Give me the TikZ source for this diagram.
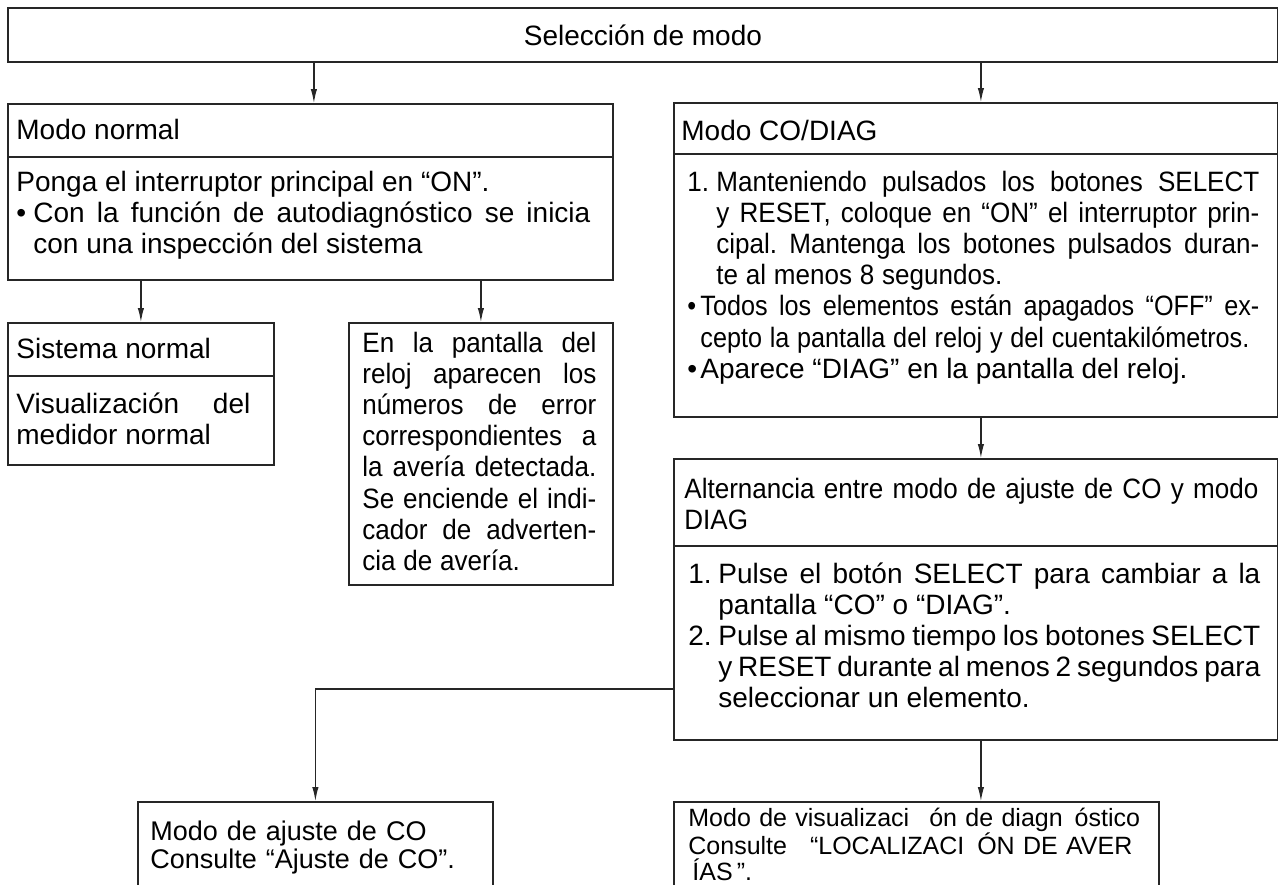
\documentclass[tikz,border=0pt]{standalone}
\usepackage{fontspec}
\setmainfont{Liberation Sans}
\newfontfamily\narrowfont[FakeStretch=0.93]{Liberation Sans}
\newfontfamily\narrowerfont[FakeStretch=0.9]{Liberation Sans}
\usetikzlibrary{arrows.meta}
\tolerance=10000
\hbadness=10000
\hyphenpenalty=10000
\frenchspacing
\tikzstyle{panel} = [rectangle, draw=black!85, line width=0.9pt, anchor=north west, inner sep=0pt, font={\fontsize{14pt}{15.6pt}\selectfont}]
\tikzstyle{body} = [anchor=base west, inner sep=0pt, align=justify, font={\fontsize{14pt}{15.6pt}\selectfont\spaceskip=.278em plus .3em minus .12em\relax}]
\tikzstyle{rule} = [draw=black!85, line width=0.9pt]
\tikzstyle{arrow} = [draw=black!85, line width=0.6pt, -{Latex[length=7pt,width=3.2pt]}]

\begin{document}
\begin{tikzpicture}[x=0.5pt, y=-0.5pt]
    \useasboundingbox (0,0) rectangle (1278,884);
    \clip (0,0) rectangle (1278,884);

    % boxes
    \node (sel)     [panel, minimum width=635pt, minimum height=27pt]     at (7,7)     {Selección de modo};
    \node (normal)  [panel, minimum width=302.5pt, minimum height=88pt]   at (7,103)   {};
    \node (codiag)  [panel, minimum width=302pt, minimum height=157pt]    at (673,102) {};
    \node (sistema) [panel, minimum width=133pt, minimum height=71pt]     at (7,322)   {};
    \node (error)   [panel, minimum width=132pt, minimum height=131pt]    at (348,322) {};
    \node (alter)   [panel, minimum width=302pt, minimum height=140.5pt]  at (673,458) {};
    \node (ajuste)  [panel, minimum width=177.5pt, minimum height=50pt]   at (137,801) {};
    \node (diagvis) [panel, minimum width=242.5pt, minimum height=50pt]   at (673,801) {};

    \draw [rule] ([yshift=-27pt]normal.north west)  -- ([yshift=-27pt]normal.north east);
    \draw [rule] ([yshift=-26pt]codiag.north west)  -- ([yshift=-26pt]codiag.north east);
    \draw [rule] ([yshift=-27pt]sistema.north west) -- ([yshift=-27pt]sistema.north east);
    \draw [rule] ([yshift=-44pt]alter.north west)   -- ([yshift=-44pt]alter.north east);

    % texts
    \node (normal-title) [body] at (16,139) {Modo normal};
    \node (normal-text)  [body, text width=287pt] at (16,191) {Ponga el interruptor principal en “ON”.\par
      \makebox[8.5pt][l]{\textbullet}\hangindent=8.5pt Con la función de autodiagnóstico se inicia\linebreak con una inspección del sistema\par};

    \node (sistema-title) [body] at (16,358) {Sistema normal};
    \node (sistema-text)  [body, text width=117pt] at (16,413) {Visualización del\linebreak medidor normal};

    \node (error-text) [body, text width=117pt] at (362,352) {\narrowfont En la pantalla del\linebreak reloj aparecen los\linebreak
      números de error\linebreak correspondientes a\linebreak la avería detectada.\linebreak Se enciende el indi-\linebreak
      cador de adverten-\linebreak cia de avería.};

    \node (codiag-title) [body] at (681,140) {Modo CO/DIAG};
    \node (codiag-text)  [body, text width=286pt] at (687,191) {\narrowfont\hangindent=14.5pt
      \makebox[14.5pt][l]{1.}Manteniendo pulsados los botones SELECT\linebreak y RESET, coloque en “ON” el interruptor prin-\linebreak
      cipal. Mantenga los botones pulsados duran-\linebreak te al menos 8 segundos.\par
      \narrowerfont\makebox[6.5pt][l]{\textbullet}\hangindent=6.5pt Todos los elementos están apagados “OFF” ex-\linebreak
      cepto la pantalla del reloj y del cuentakilómetros.\par
      \rmfamily\makebox[6.5pt][l]{\textbullet}\hangindent=6.5pt Aparece “DIAG” en la pantalla del reloj.\par};

    \node (alter-title) [body, text width=287pt] at (684,498) {\narrowfont Alternancia entre modo de ajuste de CO y modo\linebreak DIAG};
    \node (alter-text)  [body, text width=286pt] at (688,583) {\hangindent=15pt
      \makebox[15pt][l]{1.}Pulse el botón SELECT para cambiar a la\linebreak pantalla “CO” o “DIAG”.\par
      \makebox[15pt][l]{2.}\hangindent=15pt Pulse al mismo tiempo los botones SELECT\linebreak
      y RESET durante al menos 2 segundos para\linebreak seleccionar un elemento.\par};

    \node (ajuste-text)  [body, align=left, text width=170pt, font={\fontsize{13.5pt}{14pt}\selectfont}] at (150,840)
      {Modo de ajuste de CO\\Consulte “Ajuste de CO”.};
    \node (diagvis-text) [body, align=left, text width=240pt, font={\fontsize{12.5pt}{12.75pt}\selectfont}] at (688,826)
      {Modo de visualizaci\hspace{10pt}ón de diagn\hspace{6pt}óstico\\
       Consulte\hspace{11.5pt}“LOCALIZACI\hspace{6.5pt}ÓN DE AVER\\
       \hspace{2pt}ÍAS\,”.};

    % connectors
    \draw [arrow] ([xshift=1.75pt]sel.south -| normal.north) -- ([xshift=1.75pt]normal.north);
    \draw [arrow] ([xshift=2.5pt]sel.south -| codiag.north) -- ([xshift=2.5pt]codiag.north);
    \draw [arrow] (normal.south -| sistema.north) -- (sistema.north);
    \draw [arrow] (normal.south -| error.north)   -- (error.north);
    \draw [arrow] ([xshift=2.5pt]codiag.south)    -- ([xshift=2.5pt]alter.north);
    \draw [arrow] ([yshift=-44.75pt]alter.west)   -| (ajuste.north);
    \draw [arrow] ([xshift=2.5pt]alter.south)     -- ([xshift=2.5pt]alter.south |- diagvis.north);
\end{tikzpicture}
\end{document}
